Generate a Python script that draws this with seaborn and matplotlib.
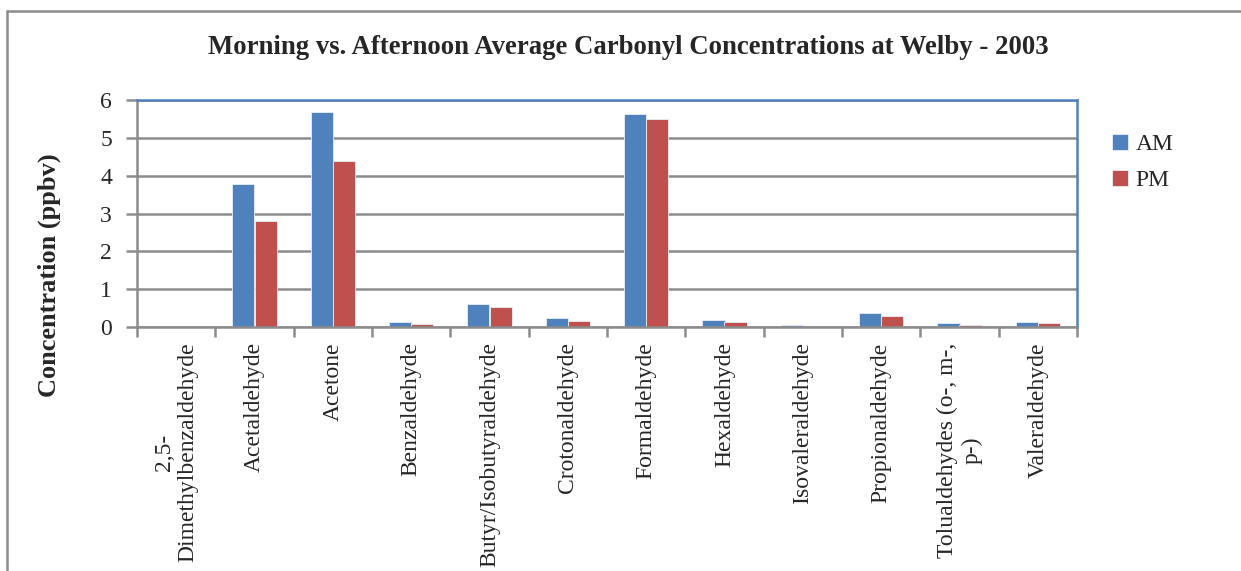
import matplotlib
matplotlib.use("Agg")
import matplotlib.pyplot as plt
from matplotlib.lines import Line2D
from matplotlib.ticker import FixedLocator
import seaborn as sns
import pandas as pd
import numpy as np

compounds = [
    "2,5-\nDimethylbenzaldehyde",
    "Acetaldehyde",
    "Acetone",
    "Benzaldehyde",
    "Butyr/Isobutyraldehyde",
    "Crotonaldehyde",
    "Formaldehyde",
    "Hexaldehyde",
    "Isovaleraldehyde",
    "Propionaldehyde",
    "Tolualdehydes (o-, m-,\np-)",
    "Valeraldehyde",
]
am_values = [0.0, 3.79, 5.68, 0.14, 0.61, 0.25, 5.62, 0.18, 0.04, 0.37, 0.10, 0.13]
pm_values = [0.0, 2.79, 4.40, 0.09, 0.54, 0.16, 5.49, 0.12, 0.01, 0.29, 0.06, 0.10]
periods = ["AM", "PM"]
y_ticks = [0, 1, 2, 3, 4, 5, 6]

df = pd.DataFrame({
    "Compound": compounds * 2,
    "Period": ["AM"] * len(compounds) + ["PM"] * len(compounds),
    "Concentration": am_values + pm_values,
})

sns.set_theme(style="white")
plt.rcParams["font.family"] = ["Liberation Serif", "DejaVu Serif"]

W, H = 1241, 571
fig = plt.figure(figsize=(W / 100, H / 100), dpi=100)
ax = fig.add_axes([137 / W, 1 - 327 / H, (1077 - 137) / W, (327 - 100) / H])

sns.barplot(
    data=df, x="Compound", y="Concentration", hue="Period",
    order=compounds, hue_order=periods,
    palette={"AM": "#4F81BD", "PM": "#C0504D"}, saturation=1,
    width=0.57, edgecolor="#e8eef7", linewidth=0.6, ax=ax, legend=True,
)

ax.set_xlim(-0.5, len(compounds) - 0.5)
ax.set_ylim(0, 6)
ax.set_yticks(y_ticks)
ax.set_yticklabels([str(v) for v in y_ticks], fontsize=17)
ax.yaxis.grid(True, color="#8c8c8c", linewidth=1.8)
ax.set_axisbelow(True)

# category labels at bar-group centres, tick marks on the boundaries
ax.set_xticks(np.arange(len(compounds)))
ax.set_xticklabels(compounds, rotation=90, fontsize=17, va="top",
                   ha="center", multialignment="center")
ax.xaxis.set_minor_locator(FixedLocator(np.arange(len(compounds) + 1) - 0.5))
ax.tick_params(axis="x", which="major", length=0, pad=11)
ax.tick_params(axis="x", which="minor", length=7, width=1.8, color="#8c8c8c",
               direction="out", bottom=True)
ax.tick_params(axis="y", which="major", length=8, width=1.8, color="#8c8c8c",
               direction="out", left=True, pad=10)

for side in ["left", "bottom"]:
    ax.spines[side].set_color("#8c8c8c")
    ax.spines[side].set_linewidth(1.8)
for side in ["top", "right"]:
    ax.spines[side].set_color("#4F81BD")
    ax.spines[side].set_linewidth(1.8)

ax.set_xlabel("")
ax.set_ylabel("Concentration (ppbv)", fontsize=19, fontweight="bold")
ax.yaxis.set_label_coords((61 - 137) / (1077 - 137), (327 - 275) / (327 - 100))

fig.text(628 / W, 1 - 47 / H,
         "Morning vs. Afternoon Average Carbonyl Concentrations at Welby - 2003",
         ha="center", va="center", fontsize=19.3, fontweight="bold")

handles, labels = ax.get_legend_handles_labels()
leg = ax.legend(handles, labels, loc="upper left",
                bbox_to_anchor=(1100 / W, 1 - 122 / H), bbox_transform=fig.transFigure,
                frameon=False, fontsize=17, handlelength=0.7, handleheight=0.7,
                handletextpad=0.3, labelspacing=0.6, borderpad=0)

# outer chart border
border = dict(color="#8c8c8c", linewidth=1.8, transform=fig.transFigure)
fig.add_artist(Line2D([7 / W, 7 / W], [0, 1 - 11 / H], **border))
fig.add_artist(Line2D([7 / W, 1], [1 - 11 / H, 1 - 11 / H], **border))

fig.savefig("out.png", dpi=100, facecolor="white")
